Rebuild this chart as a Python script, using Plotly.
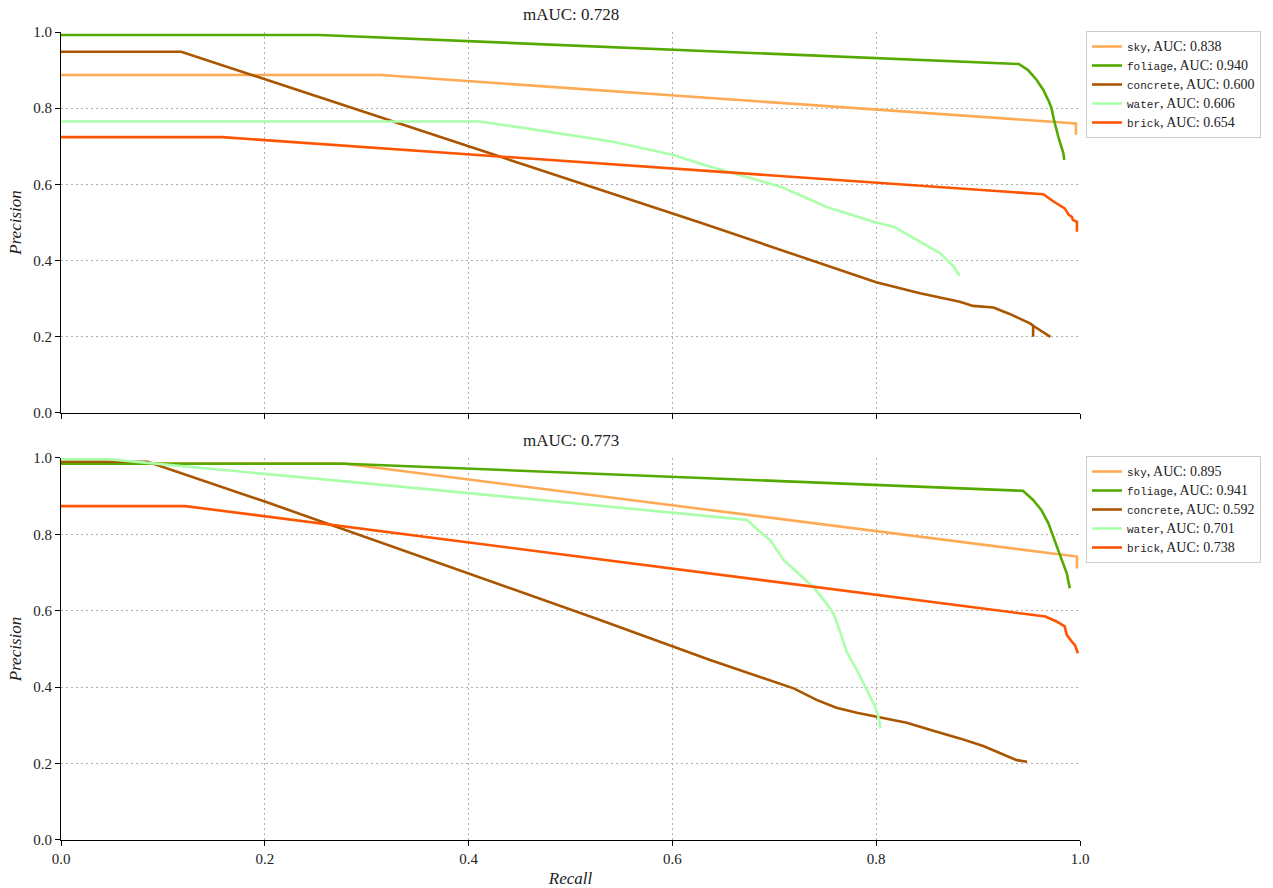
import plotly.graph_objects as go
from plotly.subplots import make_subplots

# Class names and colours
classes = ["sky", "foliage", "concrete", "water", "brick"]
colors = ["#ffaa55", "#55aa00", "#aa5500", "#aaffaa", "#ff5500"]

# ---- Model A (upper panel) ----
m_auc_a = 0.728
auc_a = [0.838, 0.940, 0.600, 0.606, 0.654]

sky_r_a = [0.0, 0.314, 0.996, 0.996]
sky_p_a = [0.887, 0.887, 0.760, 0.730]

foliage_r_a = [0.0, 0.254, 0.940, 0.949, 0.9575, 0.964, 0.9696, 0.972, 0.9745, 0.9787, 0.9836, 0.9846]
foliage_p_a = [0.992, 0.992, 0.916, 0.900, 0.874, 0.848, 0.817, 0.800, 0.769, 0.725, 0.682, 0.664]

concrete_r_a = [0.0, 0.118, 0.40, 0.627, 0.80, 0.823, 0.843, 0.882, 0.895, 0.915, 0.931, 0.951, 0.954, 0.954, 0.954, 0.971]
concrete_p_a = [0.948, 0.948, 0.700, 0.500, 0.343, 0.327, 0.314, 0.292, 0.281, 0.277, 0.260, 0.235, 0.229, 0.200, 0.229, 0.200]

water_r_a = [0.0, 0.411, 0.457, 0.542, 0.601, 0.630, 0.660, 0.706, 0.725, 0.751, 0.771, 0.797, 0.817, 0.840, 0.863, 0.876, 0.882]
water_p_a = [0.765, 0.765, 0.747, 0.712, 0.677, 0.652, 0.629, 0.594, 0.572, 0.541, 0.524, 0.502, 0.489, 0.454, 0.419, 0.384, 0.360]

brick_r_a = [0.0, 0.158, 0.964, 0.974, 0.985, 0.989, 0.992, 0.993, 0.997, 0.997]
brick_p_a = [0.724, 0.724, 0.574, 0.555, 0.537, 0.520, 0.515, 0.507, 0.502, 0.476]

# ---- Model B (lower panel) ----
m_auc_b = 0.773
auc_b = [0.895, 0.941, 0.592, 0.701, 0.738]

sky_r_b = [0.0, 0.275, 0.997, 0.997]
sky_p_b = [0.986, 0.986, 0.742, 0.711]

foliage_r_b = [0.0, 0.279, 0.944, 0.954, 0.962, 0.969, 0.975, 0.982, 0.987, 0.990]
foliage_p_b = [0.985, 0.985, 0.914, 0.890, 0.864, 0.829, 0.785, 0.733, 0.698, 0.659]

concrete_r_b = [0.0, 0.085, 0.200, 0.529, 0.637, 0.719, 0.742, 0.761, 0.781, 0.804, 0.830, 0.856, 0.882, 0.905, 0.921, 0.938, 0.948]
concrete_p_b = [0.990, 0.990, 0.886, 0.576, 0.471, 0.397, 0.366, 0.346, 0.333, 0.321, 0.307, 0.286, 0.266, 0.246, 0.229, 0.209, 0.205]

water_r_b = [0.0, 0.046, 0.318, 0.529, 0.673, 0.686, 0.696, 0.709, 0.725, 0.738, 0.751, 0.758, 0.764, 0.771, 0.781, 0.791, 0.799, 0.803, 0.804]
water_p_b = [0.997, 0.997, 0.929, 0.874, 0.838, 0.807, 0.785, 0.733, 0.694, 0.663, 0.620, 0.593, 0.550, 0.493, 0.445, 0.393, 0.349, 0.314, 0.292]

brick_r_b = [0.0, 0.122, 0.966, 0.977, 0.985, 0.987, 0.992, 0.995, 0.998]
brick_p_b = [0.874, 0.874, 0.585, 0.572, 0.559, 0.537, 0.519, 0.510, 0.489]

ticks = [0.0, 0.2, 0.4, 0.6, 0.8, 1.0]
tick_text = ["0.0", "0.2", "0.4", "0.6", "0.8", "1.0"]

panels = [
    (m_auc_a, auc_a, [(sky_r_a, sky_p_a), (foliage_r_a, foliage_p_a), (concrete_r_a, concrete_p_a),
                      (water_r_a, water_p_a), (brick_r_a, brick_p_a)], "legend"),
    (m_auc_b, auc_b, [(sky_r_b, sky_p_b), (foliage_r_b, foliage_p_b), (concrete_r_b, concrete_p_b),
                      (water_r_b, water_p_b), (brick_r_b, brick_p_b)], "legend2"),
]

SERIF = "Liberation Serif, DejaVu Serif, serif"
MONO = "Liberation Mono, DejaVu Sans Mono, monospace"

fig = make_subplots(rows=2, cols=1, shared_xaxes=True, vertical_spacing=0.0557)

for row, (mauc, aucs, curves, leg) in enumerate(panels, start=1):
    for name, col, auc, (r, p) in zip(classes, colors, aucs, curves):
        label = (f"<span style=\"font-family:{MONO};font-size:11px\">{name}</span>"
                 f"<span style=\"font-size:14px\">, AUC: {auc:.3f}</span>")
        fig.add_trace(go.Scatter(x=r, y=p, mode="lines", name=label,
                                 line=dict(color=col, width=2.6),
                                 legend=leg, showlegend=True),
                      row=row, col=1)

fig.update_xaxes(range=[0, 1], tickvals=ticks, ticktext=tick_text, automargin=False,
                 showline=True, linecolor="black", linewidth=1.2, mirror=False,
                 ticks="outside", ticklen=5, tickwidth=1.2, tickcolor="black",
                 showgrid=True, gridcolor="#b0b0b0", griddash="2px,3px", gridwidth=1,
                 zeroline=False, tickfont=dict(family=SERIF, size=15, color="#222"))
fig.update_yaxes(range=[0, 1], tickvals=ticks, ticktext=tick_text, automargin=False,
                 showline=True, linecolor="black", linewidth=1.2, mirror=False,
                 ticks="outside", ticklen=5, tickwidth=1.2, tickcolor="black",
                 showgrid=True, gridcolor="#b0b0b0", griddash="2px,3px", gridwidth=1,
                 zeroline=False, tickfont=dict(family=SERIF, size=15, color="#222"),
                 title=dict(text="<i>Precision</i>", font=dict(family=SERIF, size=17, color="#222"),
                            standoff=7))
fig.update_xaxes(showticklabels=False, row=1, col=1)
fig.update_xaxes(title=dict(text="<i>Recall</i>", font=dict(family=SERIF, size=17, color="#222"),
                            standoff=8), row=2, col=1)

legend_style = dict(xref="container", yref="container", xanchor="left", yanchor="top",
                    bordercolor="#cccccc", borderwidth=1, bgcolor="white",
                    font=dict(family=SERIF, size=11, color="#222"), tracegroupgap=0)

fig.update_layout(
    yaxis=dict(domain=[0.5285, 1.0]),
    yaxis2=dict(domain=[0.0, 0.4728]),
    width=1273, height=888,
    margin=dict(l=61, r=193, t=32, b=48, autoexpand=False),
    paper_bgcolor="white", plot_bgcolor="white",
    font=dict(family=SERIF, size=13, color="#222"),
    legend=dict(x=1086 / 1273, y=1 - 31 / 888, **legend_style),
    legend2=dict(x=1086 / 1273, y=1 - 456 / 888, **legend_style),
    annotations=[
        dict(text=f"mAUC: {m_auc_a:.3f}", x=0.5, y=1.0, xref="paper", yref="paper",
             xanchor="center", yanchor="bottom", yshift=6, showarrow=False,
             font=dict(family=SERIF, size=17, color="#222")),
        dict(text=f"mAUC: {m_auc_b:.3f}", x=0.5, y=0.4728, xref="paper", yref="paper",
             xanchor="center", yanchor="bottom", yshift=6, showarrow=False,
             font=dict(family=SERIF, size=17, color="#222")),
    ],
)

fig.write_html("out.html")
